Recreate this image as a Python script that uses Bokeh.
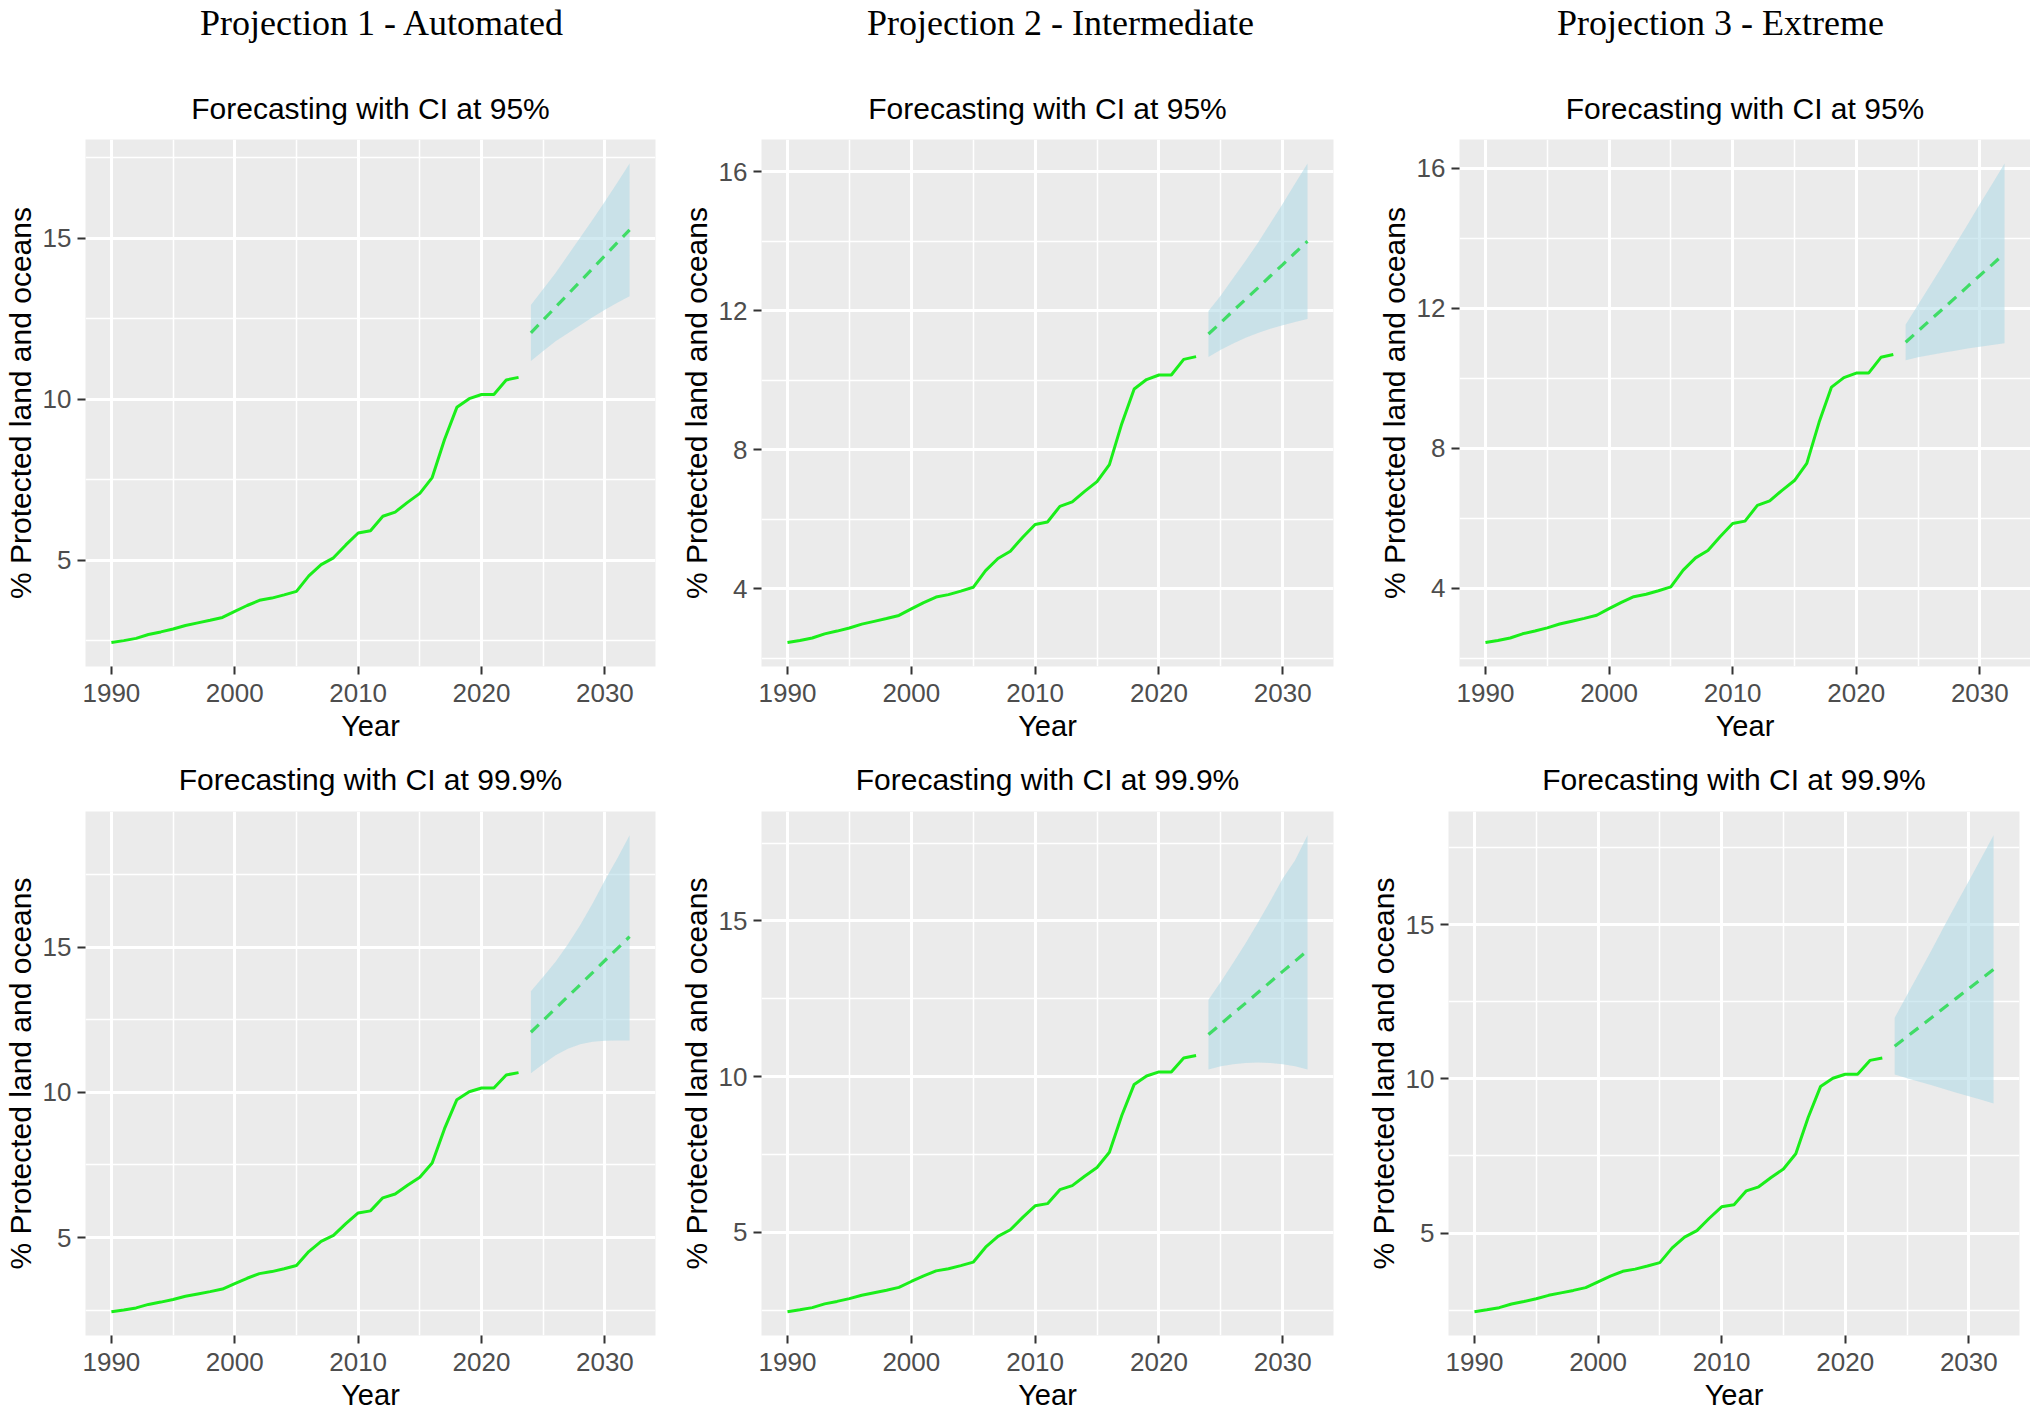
from bokeh.plotting import figure
from bokeh.models import FixedTicker, Title, Range1d
from bokeh.layouts import column, row
from bokeh.core.properties import value
from bokeh.embed import file_html
from bokeh.resources import INLINE

years_hist = list(range(1990, 2024))
protected_hist = [2.45, 2.51, 2.58, 2.70, 2.78, 2.87, 2.98, 3.06, 3.14, 3.23,
                  3.42, 3.60, 3.76, 3.83, 3.93, 4.04, 4.52, 4.87, 5.08, 5.48,
                  5.85, 5.92, 6.37, 6.50, 6.80, 7.08, 7.57, 8.75, 9.75, 10.02,
                  10.15, 10.15, 10.60, 10.68]
years_fc = list(range(2024, 2033))

# Projection 1 - Automated, CI 95%
p1_95_mean = [12.06, 12.46, 12.86, 13.26, 13.66, 14.06, 14.46, 14.86, 15.26]
p1_95_lo = [11.19, 11.50, 11.80, 12.05, 12.30, 12.55, 12.78, 13.00, 13.20]
p1_95_hi = [12.93, 13.42, 13.92, 14.47, 15.02, 15.57, 16.14, 16.72, 17.32]
# Projection 2 - Intermediate, CI 95%
p2_95_mean = [11.33, 11.66, 12.00, 12.33, 12.66, 13.00, 13.33, 13.67, 14.00]
p2_95_lo = [10.67, 10.88, 11.06, 11.22, 11.36, 11.48, 11.58, 11.68, 11.76]
p2_95_hi = [11.99, 12.44, 12.94, 13.44, 13.96, 14.52, 15.08, 15.66, 16.24]
# Projection 3 - Extreme, CI 95%
p3_95_mean = [11.03, 11.35, 11.67, 11.98, 12.30, 12.62, 12.94, 13.25, 13.57]
p3_95_lo = [10.52, 10.60, 10.67, 10.73, 10.79, 10.85, 10.90, 10.95, 11.00]
p3_95_hi = [11.54, 12.10, 12.67, 13.23, 13.81, 14.39, 14.98, 15.55, 16.14]
# Projection 1 - Automated, CI 99.9%
p1_999_mean = [12.07, 12.48, 12.89, 13.30, 13.71, 14.12, 14.54, 14.95, 15.36]
p1_999_lo = [10.66, 10.98, 11.28, 11.50, 11.66, 11.74, 11.78, 11.79, 11.79]
p1_999_hi = [13.48, 13.98, 14.50, 15.10, 15.76, 16.50, 17.30, 18.05, 18.85]
# Projection 2 - Intermediate, CI 99.9%
p2_999_mean = [11.35, 11.69, 12.03, 12.36, 12.70, 13.04, 13.38, 13.71, 14.05]
p2_999_lo = [10.23, 10.33, 10.40, 10.44, 10.45, 10.44, 10.40, 10.33, 10.23]
p2_999_hi = [12.47, 13.05, 13.66, 14.28, 14.95, 15.64, 16.36, 16.95, 17.75]
# Projection 3 - Extreme, CI 99.9%
p3_999_mean = [11.06, 11.37, 11.68, 11.99, 12.31, 12.62, 12.93, 13.24, 13.55]
p3_999_lo = [10.14, 10.02, 9.91, 9.79, 9.67, 9.55, 9.44, 9.32, 9.20]
p3_999_hi = [11.98, 12.72, 13.45, 14.19, 14.95, 15.69, 16.42, 17.16, 17.90]

x_ticks = [1990, 2000, 2010, 2020, 2030]
x_minor = [1995, 2005, 2015, 2025]
y_ticks_5 = [5, 10, 15]
y_minor_5 = [2.5, 7.5, 12.5, 17.5]
y_ticks_4 = [4, 8, 12, 16]
y_minor_4 = [2, 6, 10, 14]

headers = ["Projection 1 - Automated", "Projection 2 - Intermediate", "Projection 3 - Extreme"]
sub_95 = "Forecasting with CI at 95%"
sub_999 = "Forecasting with CI at 99.9%"
y_title = "% Protected land and oceans"
x_title = "Year"

SANS = "Liberation Sans"
SERIF = "Liberation Serif"

TOTAL_W = 2030
HEAD_H = 46

# header strip (pixel coordinates)
hdr = figure(width=TOTAL_W, height=HEAD_H, output_backend="svg", toolbar_location=None,
             x_range=Range1d(0, TOTAL_W), y_range=Range1d(HEAD_H, 0),
             x_axis_type=None, y_axis_type=None,
             min_border_left=0, min_border_right=0, min_border_top=0, min_border_bottom=0)
hdr.outline_line_color = None
hdr.background_fill_color = "white"
hdr.border_fill_color = "white"
header_x = [382, 1060, 1720]
hdr.text(x=header_x, y=[22, 22, 22], text=headers, text_font=value(SERIF),
         text_font_size="36px", text_color="black", text_align="center",
         text_baseline="middle")


def make_panel(subtitle, sub_standoff, mean, lo, hi, yt, ym, width, height, bl, br, bt, bb):
    ymin = min(protected_hist + lo)
    ymax = max(protected_hist + hi)
    span = ymax - ymin
    xmin, xmax = years_hist[0], years_fc[-1]
    xspan = xmax - xmin
    p = figure(width=width, height=height, output_backend="svg", toolbar_location=None,
               x_range=Range1d(xmin - 0.05 * xspan, xmax + 0.05 * xspan),
               y_range=Range1d(ymin - 0.05 * span, ymax + 0.05 * span),
               min_border_left=bl, min_border_right=br, min_border_top=bt,
               min_border_bottom=bb, title=None)
    p.background_fill_color = "#EBEBEB"
    p.border_fill_color = "white"
    p.outline_line_color = None

    p.xaxis.ticker = FixedTicker(ticks=x_ticks, minor_ticks=x_minor)
    p.yaxis.ticker = FixedTicker(ticks=yt, minor_ticks=ym)
    for ax in (p.xaxis[0], p.yaxis[0]):
        ax.axis_line_color = None
        ax.major_tick_line_color = "#333333"
        ax.major_tick_line_width = 2
        ax.major_tick_out = 8
        ax.major_tick_in = 0
        ax.minor_tick_line_color = None
        ax.major_label_text_font = SANS
        ax.major_label_text_font_size = "26px"
        ax.major_label_text_color = "#4D4D4D"
        ax.axis_label_text_font = SANS
        ax.axis_label_text_font_style = "normal"
        ax.axis_label_text_color = "black"
    p.xaxis.major_label_standoff = 9
    p.xaxis.axis_label = x_title
    p.xaxis.axis_label_text_font_size = "29px"
    p.xaxis.axis_label_standoff = 5
    p.yaxis.major_label_standoff = 6
    p.yaxis.axis_label = y_title
    p.yaxis.axis_label_text_font_size = "30px"
    p.yaxis.axis_label_standoff = 3

    for g in (p.xgrid[0], p.ygrid[0]):
        g.grid_line_color = "white"
        g.grid_line_width = 3
        g.minor_grid_line_color = "white"
        g.minor_grid_line_width = 1.5

    p.varea(x=years_fc, y1=lo, y2=hi, fill_color="#ADD8E6", fill_alpha=0.55)
    p.line(years_hist, protected_hist, line_color="#1AEE1A", line_width=3)
    p.line(years_fc, mean, line_color="#3FDC66", line_width=3.2, line_dash="11 8")

    p.add_layout(Title(text=subtitle, text_font=SANS, text_font_size="30px",
                       text_font_style="normal", text_color="black",
                       align="center", standoff=sub_standoff), "above")
    return p


H1 = 698   # page y 46 .. 744
H2 = 669   # page y 744 .. 1413
a1 = make_panel(sub_95, 29, p1_95_mean, p1_95_lo, p1_95_hi, y_ticks_5, y_minor_5,
                672, H1, 84, 17, 93, 73)
a2 = make_panel(sub_95, 29, p2_95_mean, p2_95_lo, p2_95_hi, y_ticks_4, y_minor_4,
                693, H1, 89, 32, 93, 73)
a3 = make_panel(sub_95, 29, p3_95_mean, p3_95_lo, p3_95_hi, y_ticks_4, y_minor_4,
                665, H1, 94, 0, 93, 73)
b1 = make_panel(sub_999, 31, p1_999_mean, p1_999_lo, p1_999_hi, y_ticks_5, y_minor_5,
                672, H2, 84, 17, 67, 72)
b2 = make_panel(sub_999, 31, p2_999_mean, p2_999_lo, p2_999_hi, y_ticks_5, y_minor_5,
                688, H2, 89, 27, 67, 72)
b3 = make_panel(sub_999, 31, p3_999_mean, p3_999_lo, p3_999_hi, y_ticks_5, y_minor_5,
                670, H2, 88, 11, 67, 72)

layout = column(hdr, row(a1, a2, a3), row(b1, b2, b3))
open("out.html", "w").write(file_html(layout, INLINE))
